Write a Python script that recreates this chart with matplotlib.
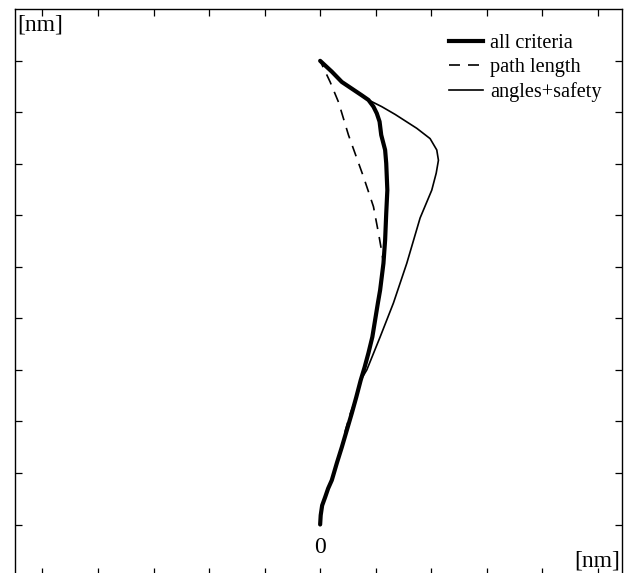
import matplotlib
matplotlib.use("Agg")
import matplotlib.pyplot as plt
from matplotlib.lines import Line2D

# ---- data (tick units; origin at start of path) ----
all_x = [0.0, 0.01, 0.036, 0.09, 0.144, 0.21, 0.30, 0.39, 0.48, 0.57, 0.65, 0.73,
         0.80, 0.87, 0.94, 0.99, 1.04, 1.08, 1.14, 1.17, 1.19, 1.21, 1.20, 1.19,
         1.17, 1.10, 1.07, 1.02, 0.96, 0.87, 0.75, 0.57, 0.39, 0.21, 0.0]
all_y = [0.0, 0.18, 0.37, 0.53, 0.70, 0.86, 1.19, 1.50, 1.83, 2.16, 2.47, 2.80,
         3.05, 3.33, 3.64, 3.97, 4.30, 4.55, 5.07, 5.52, 6.04, 6.49, 6.75, 7.01,
         7.27, 7.56, 7.82, 7.98, 8.11, 8.24, 8.33, 8.46, 8.59, 8.79, 9.0]

path_x = [0.0, 0.01, 0.036, 0.09, 0.144, 0.21, 0.30, 0.39, 0.455, 0.545, 0.65, 0.73,
          0.80, 0.87, 0.94, 0.99, 1.04, 1.08, 1.14, 1.11, 1.05, 0.96, 0.78, 0.51,
          0.33, 0.18, 0.0]
path_y = [0.0, 0.18, 0.37, 0.53, 0.70, 0.86, 1.19, 1.50, 1.83, 2.16, 2.47, 2.80,
          3.05, 3.33, 3.64, 3.97, 4.30, 4.55, 5.07, 5.29, 5.66, 6.17, 6.75, 7.56,
          8.20, 8.59, 9.0]

ang_x = [0.0, 0.01, 0.036, 0.09, 0.144, 0.21, 0.30, 0.39, 0.48, 0.57, 0.65, 0.73,
         0.84, 1.08, 1.32, 1.56, 1.80, 2.01, 2.09, 2.13, 2.10, 1.98, 1.74, 1.35,
         1.11, 0.87, 0.75, 0.57, 0.39, 0.21, 0.0]
ang_y = [0.0, 0.18, 0.37, 0.53, 0.70, 0.86, 1.19, 1.50, 1.83, 2.16, 2.47, 2.80,
         3.0, 3.64, 4.30, 5.07, 5.95, 6.49, 6.82, 7.07, 7.27, 7.49, 7.69, 7.96,
         8.11, 8.24, 8.33, 8.46, 8.59, 8.79, 9.0]

labels = ["all criteria", "path length", "angles+safety"]
x_ticks = [-5, -4, -3, -2, -1, 0, 1, 2, 3, 4, 5]
y_ticks = [0, 1, 2, 3, 4, 5, 6, 7, 8, 9]

W, H = 632, 573
fig = plt.figure(figsize=(W / 100, H / 100), dpi=100)
serif = ["Liberation Serif", "DejaVu Serif"]

ax_l, ax_r, ax_t, ax_b = 14.7, 621.7, 9.3, 575.0
ax = fig.add_axes([ax_l / W, (H - ax_b) / H, (ax_r - ax_l) / W, (ax_b - ax_t) / H])
ax.set_xlim(-5.5, 5.43)
ax.set_ylim(-0.98, 10.0)

lw_thin = 1.2
lw_thick = 3.0
dash = (7.9 / lw_thin, 5.8 / lw_thin)
ax.plot(path_x, path_y, color="black", lw=lw_thin, dashes=dash,
        label=labels[1], zorder=2)
ax.plot(ang_x, ang_y, color="black", lw=lw_thin, label=labels[2], zorder=3,
        solid_joinstyle="round")
ax.plot(all_x, all_y, color="black", lw=lw_thick, label=labels[0], zorder=4,
        solid_capstyle="round", solid_joinstyle="round")

ax.set_xticks(x_ticks)
ax.set_yticks(y_ticks)
ax.tick_params(axis="both", direction="in", length=5, width=0.9,
               top=True, right=True, bottom=True, left=True,
               labelbottom=False, labelleft=False)
for s in ax.spines.values():
    s.set_linewidth(1.0)

handles = [
    Line2D([], [], color="black", lw=lw_thick),
    Line2D([], [], color="black", lw=lw_thin, dashes=dash),
    Line2D([], [], color="black", lw=lw_thin),
]
leg = ax.legend(handles, labels, loc="upper left",
                bbox_to_anchor=(449 / W, 1 - 34 / H), bbox_transform=fig.transFigure,
                frameon=False, borderpad=0, borderaxespad=0,
                handlelength=1.67, handletextpad=0.35, labelspacing=0.25,
                prop={"family": serif, "size": 14.6})

fig.text(17 / W, 1 - 30.7 / H, "[nm]", family=serif, fontsize=17,
         ha="left", va="baseline")
fig.text(620 / W, 1 - 566 / H, "[nm]", family=serif, fontsize=17,
         ha="right", va="baseline")
ax.text(0, -0.557, "0", family=serif, fontsize=17, ha="center", va="baseline")

fig.savefig("out.png", dpi=100)
